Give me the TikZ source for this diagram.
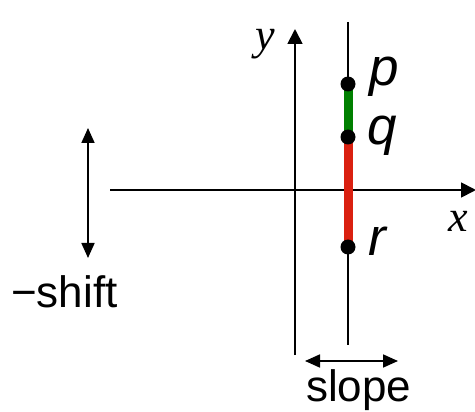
\documentclass[tikz,border=0pt]{standalone}
\usepackage{fontspec}
\setmainfont{Liberation Sans}
\newfontfamily\mathserif{Liberation Serif}
\usetikzlibrary{arrows.meta}
\definecolor{segred}{RGB}{218,32,16}
\definecolor{seggreen}{RGB}{0,128,0}
\begin{document}
\begin{tikzpicture}[x=1pt,y=-1pt,
  axis/.style={line width=1.8pt,-{Triangle[length=15pt,width=15pt]}},
  dbl/.style={line width=1.8pt,{Triangle[length=15pt,width=13pt]}-{Triangle[length=15pt,width=13pt]}},
  dot/.style={circle,fill=black,inner sep=0pt,minimum size=15pt},
  ptlabel/.style={font=\fontsize{53}{55}\selectfont\itshape,anchor=base west,inner sep=0pt},
  axlabel/.style={font=\fontsize{44}{46}\selectfont\mathserif\itshape,anchor=base,inner sep=0pt},
  txt/.style={font=\fontsize{44}{48}\selectfont,inner sep=0pt,anchor=base west}]
\useasboundingbox (0,0) rectangle (475,412);
% axes
\coordinate (xs) at (110,190);
\coordinate (xe) at (476,190);
\coordinate (ys) at (295,355);
\coordinate (ye) at (295,29);
\draw[axis] (xs) -- (xe);
\draw[axis] (ys) -- (ye);
% vertical line
\coordinate (vt) at (348,22);
\coordinate (vb) at (348,345);
\draw[line width=1.8pt] (vt) -- (vb);
% points
\coordinate (pc) at (348,84);
\coordinate (qc) at (348,137);
\coordinate (rc) at (348,247);
\draw[line width=9pt,seggreen] (pc) -- (qc);
\draw[line width=9pt,segred] (qc) -- (rc);
\node[dot] (p) at (pc) {};
\node[dot] (q) at (qc) {};
\node[dot] (r) at (rc) {};
\node[ptlabel] (pl) at (369,86) {p};
\node[ptlabel] (ql) at (367,145) {q};
\node[ptlabel] (rl) at (368,256) {r};
\node[axlabel] (xl) at (458,232) {x};
\node[axlabel] (yl) at (265,50) {y};
% shift arrow
\coordinate (sa) at (88,128);
\coordinate (sb) at (88,258);
\draw[dbl] (sa) -- (sb);
\node[txt] (shift) at (11,308) {−shift};
% slope arrow
\coordinate (la) at (305,361);
\coordinate (lb) at (398,361);
\draw[dbl] (la) -- (lb);
\node[txt] (slope) at (306,402) {slope};
\end{tikzpicture}
\end{document}
